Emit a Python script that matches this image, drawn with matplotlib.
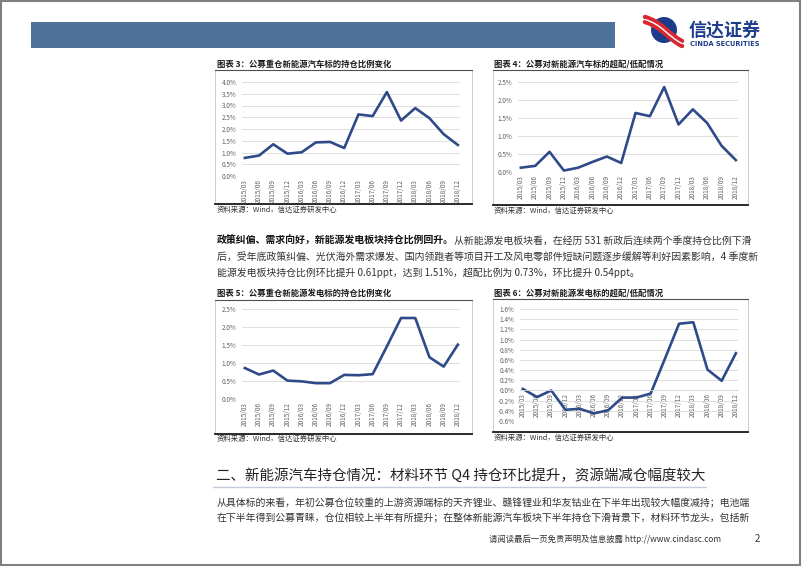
import numpy as np
import matplotlib
matplotlib.use('Agg')
import matplotlib.pyplot as plt
from matplotlib.patches import Rectangle, Circle, PathPatch
from matplotlib.path import Path
from matplotlib.ticker import FuncFormatter

plt.rcParams['font.family'] = ['Noto Sans CJK SC', 'DejaVu Sans']

# 数据（读自原图，单位 %）
quarters = ['2015/03', '2015/06', '2015/09', '2015/12', '2016/03', '2016/06', '2016/09', '2016/12',
            '2017/03', '2017/06', '2017/09', '2017/12', '2018/03', '2018/06', '2018/09', '2018/12']
nev_hold = [0.77, 0.87, 1.35, 0.95, 1.01, 1.43, 1.45, 1.19,
            2.62, 2.55, 3.57, 2.36, 2.89, 2.46, 1.78, 1.32]
nev_over = [0.12, 0.17, 0.56, 0.04, 0.12, 0.28, 0.43, 0.25,
            1.64, 1.55, 2.36, 1.32, 1.74, 1.36, 0.73, 0.33]
power_hold = [0.86, 0.68, 0.79, 0.51, 0.49, 0.44, 0.44, 0.67,
              0.66, 0.69, 1.46, 2.25, 2.25, 1.16, 0.90, 1.51]
power_over = [0.03, -0.13, 0.00, -0.38, -0.36, -0.45, -0.39, -0.14,
              -0.14, -0.06, 0.62, 1.31, 1.34, 0.41, 0.19, 0.73]

W, H = 802, 567
fig = plt.figure(figsize=(W / 100, H / 100), dpi=100)
bg = fig.add_axes([0, 0, 1, 1])
bg.set_xlim(0, W)
bg.set_ylim(H, 0)
bg.axis('off')

# 页面边框
bg.add_patch(Rectangle((1, 1), W - 3, H - 3, fill=False, edgecolor='#808080', lw=1.5))

# 页眉
bg.add_patch(Rectangle((31, 22), 584, 26, facecolor='#4d7199', edgecolor='none'))
bg.add_patch(Circle((664, 30), 13, facecolor='#1e3c8c', edgecolor='none'))
for dy, c, w in [(0, '#d7282f', 3.2), (5, '#d7282f', 3.2), (2.5, 'white', 1.0)]:
    verts = [(645, 17 + dy), (662, 22 + dy), (668, 34 + dy), (682, 41 + dy)]
    bg.add_patch(PathPatch(Path(verts, [Path.MOVETO, Path.CURVE4, Path.CURVE4, Path.CURVE4]),
                           fill=False, edgecolor=c, lw=w, capstyle='round'))
bg.text(689, 31, '信达证券', fontsize=13, fontweight='bold', color='#1e3c8c', va='center', ha='left')
bg.text(690, 44, 'CINDA SECURITIES', fontsize=4.8, fontweight='bold', color='#1e3c8c',
        va='center', ha='left', family='DejaVu Sans')


def frame(x0, x1, y0, y1):
    bg.add_patch(Rectangle((x0, y0), x1 - x0, y1 - y0, fill=False, edgecolor='#c4c4c4', lw=0.6))
    bg.plot([x0, x1], [y0, y0], color='#505050', lw=0.8)
    bg.plot([x0, x1], [y1, y1], color='#1a1a1a', lw=1.3)


def chart(box, vals, ymin, ymax, step, zero_axis=False):
    l, r, t, b = box
    ax = fig.add_axes([l / W, 1 - b / H, (r - l) / W, (b - t) / H])
    ax.patch.set_alpha(0)
    for s in ax.spines.values():
        s.set_visible(False)
    if zero_axis:
        ax.spines['bottom'].set_visible(True)
        ax.spines['bottom'].set_position(('data', 0))
        ax.spines['bottom'].set_color('#d9d9d9')
        ax.spines['bottom'].set_linewidth(0.6)
    x = np.arange(len(quarters))
    ax.plot(x, vals, color='#2f4a88', lw=1.9)
    ax.set_xlim(-0.2, 15.15)
    ax.set_ylim(ymin, ymax)
    n = int(round((ymax - ymin) / step))
    ticks = [round(ymin + i * step, 2) for i in range(n + 1)]
    ax.set_yticks(ticks)
    ax.yaxis.set_major_formatter(FuncFormatter(lambda v, p: f'{v:.1f}%'))
    ax.grid(axis='y', color='#d9d9d9', lw=0.6)
    ax.set_axisbelow(True)
    ax.set_xticks(x)
    ax.set_xticklabels(quarters)
    ax.tick_params(length=0, labelsize=4.6, labelcolor='#606060', pad=2)
    ax.tick_params(axis='x', labelrotation=90)
    ax.tick_params(axis='y', pad=4)
    return ax


def caption(x, y, txt):
    bg.text(x, y, txt, fontsize=6, fontweight='bold', color='#1a1a1a', va='center', ha='left')


def source(x, y):
    bg.text(x, y, '资料来源：Wind，信达证券研发中心', fontsize=5.3, style='italic',
            color='#333333', va='center', ha='left')


# 图表 3
frame(215, 472, 70, 204)
caption(217, 64, '图表 3：公募重仓新能源汽车标的持仓比例变化')
chart((242, 460, 82, 176), nev_hold, 0, 4.0, 0.5)
source(217, 210)

# 图表 4
frame(493, 748, 70, 205)
caption(494, 64, '图表 4：公募对新能源汽车标的超配/低配情况')
chart((518, 738, 82, 172), nev_over, 0, 2.5, 0.5)
source(494, 211)

# 图表 5
frame(215, 472, 300, 434)
caption(217, 293, '图表 5：公募重仓新能源发电标的持仓比例变化')
chart((242, 460, 309, 399), power_hold, 0, 2.5, 0.5)
source(217, 439)

# 图表 6
frame(493, 748, 299, 432)
caption(494, 293, '图表 6：公募对新能源发电标的超配/低配情况')
chart((520, 738, 309, 421), power_over, -0.6, 1.6, 0.2, zero_axis=True)
source(494, 438)

# 正文段落
fs_body = 7.15
t1 = bg.text(217, 241, '政策纠偏、需求向好，新能源发电板块持仓比例回升。', fontsize=fs_body,
             fontweight='bold', color='#111111', va='center', ha='left')
bg.annotate('从新能源发电板块看，在经历 531 新政后连续两个季度持仓比例下滑', xy=(1, 0.5), xycoords=t1,
            fontsize=fs_body, color='#333333', va='center', ha='left')
bg.text(217, 257, '后，受年底政策纠偏、光伏海外需求爆发、国内领跑者等项目开工及风电零部件短缺问题逐步缓解等利好因素影响，4 季度新',
        fontsize=fs_body, color='#333333', va='center', ha='left')
bg.text(217, 273, '能源发电板块持仓比例环比提升 0.61ppt，达到 1.51%，超配比例为 0.73%，环比提升 0.54ppt。',
        fontsize=fs_body, color='#333333', va='center', ha='left')

# 小节标题
bg.text(216, 476, '二、新能源汽车持仓情况：材料环节 Q4 持仓环比提升，资源端减仓幅度较大',
        fontsize=10.45, color='#222222', va='center', ha='left')
bg.plot([213, 706], [487, 487], color='#c3cddb', lw=1.0)

bg.text(217, 503, '从具体标的来看，年初公募仓位较重的上游资源端标的天齐锂业、赣锋锂业和华友钴业在下半年出现较大幅度减持；电池端',
        fontsize=fs_body, color='#333333', va='center', ha='left')
bg.text(217, 518, '在下半年得到公募青睐，仓位相较上半年有所提升；在整体新能源汽车板块下半年持仓下滑背景下，材料环节龙头，包括新',
        fontsize=fs_body, color='#333333', va='center', ha='left')

# 页脚
bg.text(721, 539, '请阅读最后一页免责声明及信息披露 http://www.cindasc.com', fontsize=6,
        color='#333333', va='center', ha='right')
bg.text(757, 539, '2', fontsize=7, color='#333333', va='center', ha='center')

fig.savefig('out.png', dpi=100)
